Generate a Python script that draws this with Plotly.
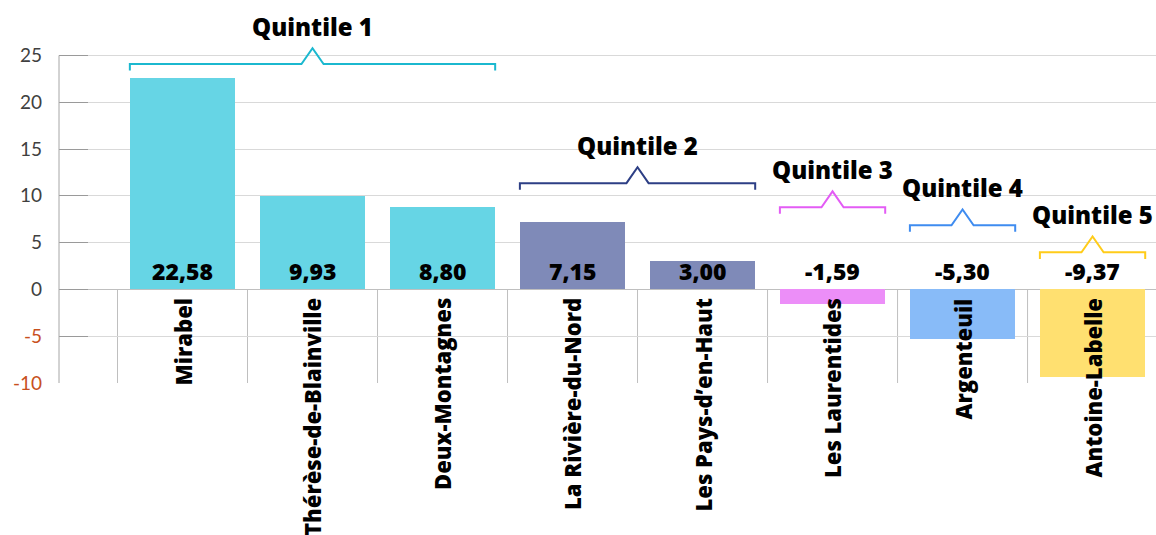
import plotly.graph_objects as go

# ---------------- data ----------------
categories = ["Mirabel", "Thérèse-de-Blainville", "Deux-Montagnes",
              "La Rivière-du-Nord", "Les Pays-d’en-Haut", "Les Laurentides",
              "Argenteuil", "Antoine-Labelle"]
values = [22.58, 9.93, 8.80, 7.15, 3.00, -1.59, -5.30, -9.37]
quintile_of = [1, 1, 1, 2, 2, 3, 4, 5]
quintile_names = ["Quintile 1", "Quintile 2", "Quintile 3", "Quintile 4", "Quintile 5"]
y_ticks = [-10, -5, 0, 5, 10, 15, 20, 25]

# ---------------- style ----------------
bar_colors = {1: "#66D5E5", 2: "#7F8AB8", 3: "#EC8EF8", 4: "#88BBF8", 5: "#FFE070"}
bracket_colors = {1: "#1BB8CF", 2: "#2D3F85", 3: "#E35CF5", 4: "#3F8CF0", 5: "#FFCC1A"}
bracket_level = {1: 24.08, 2: 11.35, 3: 8.78, 4: 6.85, 5: 3.96}
BAR_W = 0.81
PEAK_H = 1.7
PEAK_HW = 0.085
DROP = 0.7
LABEL_FONT = "Open Sans"
NEG_COLOR = "#C8501E"

x_idx = list(range(len(categories)))

def fmt(v):
    return f"{v:.2f}".replace(".", ",")

fig = go.Figure()
fig.add_trace(go.Bar(
    x=x_idx, y=values, width=BAR_W,
    marker=dict(color=[bar_colors[q] for q in quintile_of], line=dict(width=0)),
    hoverinfo="skip", showlegend=False,
))

annotations = []
# value labels just above zero line
for i, v in zip(x_idx, values):
    annotations.append(dict(
        x=i, y=0, xref="x", yref="y", text=fmt(v), showarrow=False,
        yanchor="bottom", xanchor="center", yshift=0,
        font=dict(family=LABEL_FONT, size=23, color="black", weight=800),
    ))
# category labels, rotated
for i, c in zip(x_idx, categories):
    annotations.append(dict(
        x=i, y=0, xref="x", yref="y", text=c, showarrow=False,
        textangle=-90, yanchor="top", xanchor="center", yshift=-7,
        font=dict(family=LABEL_FONT, size=22, color="black", weight=800),
    ))

# brackets + quintile titles
for q in range(1, 6):
    idx = [i for i, qq in zip(x_idx, quintile_of) if qq == q]
    x0 = min(idx) - BAR_W / 2
    x1 = max(idx) + BAR_W / 2
    xm = (x0 + x1) / 2
    y = bracket_level[q]
    xs = [x0, x0, xm - PEAK_HW, xm, xm + PEAK_HW, x1, x1]
    ys = [y - DROP, y, y, y + PEAK_H, y, y, y - DROP]
    fig.add_trace(go.Scatter(
        x=xs, y=ys, mode="lines", line=dict(color=bracket_colors[q], width=2),
        hoverinfo="skip", showlegend=False, cliponaxis=False,
    ))
    annotations.append(dict(
        x=xm, y=y + 4.0, xref="x", yref="y", text=quintile_names[q - 1],
        showarrow=False, xanchor="center", yanchor="middle",
        font=dict(family=LABEL_FONT, size=24, color="black", weight=800),
    ))

shapes = []
# vertical separators below the zero line
for i in x_idx:
    shapes.append(dict(type="line", xref="x", yref="y", x0=i - 0.5, x1=i - 0.5,
                       y0=0, y1=-10, line=dict(color="#BFBFBF", width=1), layer="below"))
# y axis line
shapes.append(dict(type="line", xref="paper", yref="y", x0=0, x1=0, y0=-10, y1=25,
                   line=dict(color="#A6A6A6", width=1)))

tick_text = [f'<span style="color:{NEG_COLOR}">{t}</span>' if t < 0 else str(t) for t in y_ticks]

fig.update_layout(
    width=1156, height=535,
    margin=dict(l=59, r=0, t=18, b=152),
    paper_bgcolor="white", plot_bgcolor="white",
    bargap=0,
    annotations=annotations, shapes=shapes,
    xaxis=dict(range=[-0.95, 7.488], showgrid=False, zeroline=False,
               showticklabels=False, ticks="", showline=False),
    yaxis=dict(range=[-10, 29], tickvals=y_ticks, ticktext=tick_text,
               showgrid=True, gridcolor="#D9D9D9", gridwidth=1,
               zeroline=True, zerolinecolor="#BFBFBF", zerolinewidth=1,
               ticks="inside", ticklen=29, tickcolor="#9A9A9A", tickwidth=1,
               ticklabelstandoff=16,
               tickfont=dict(family="Lato", size=19, color="#404040"),
               showline=False),
)

fig.write_html("out.html")
